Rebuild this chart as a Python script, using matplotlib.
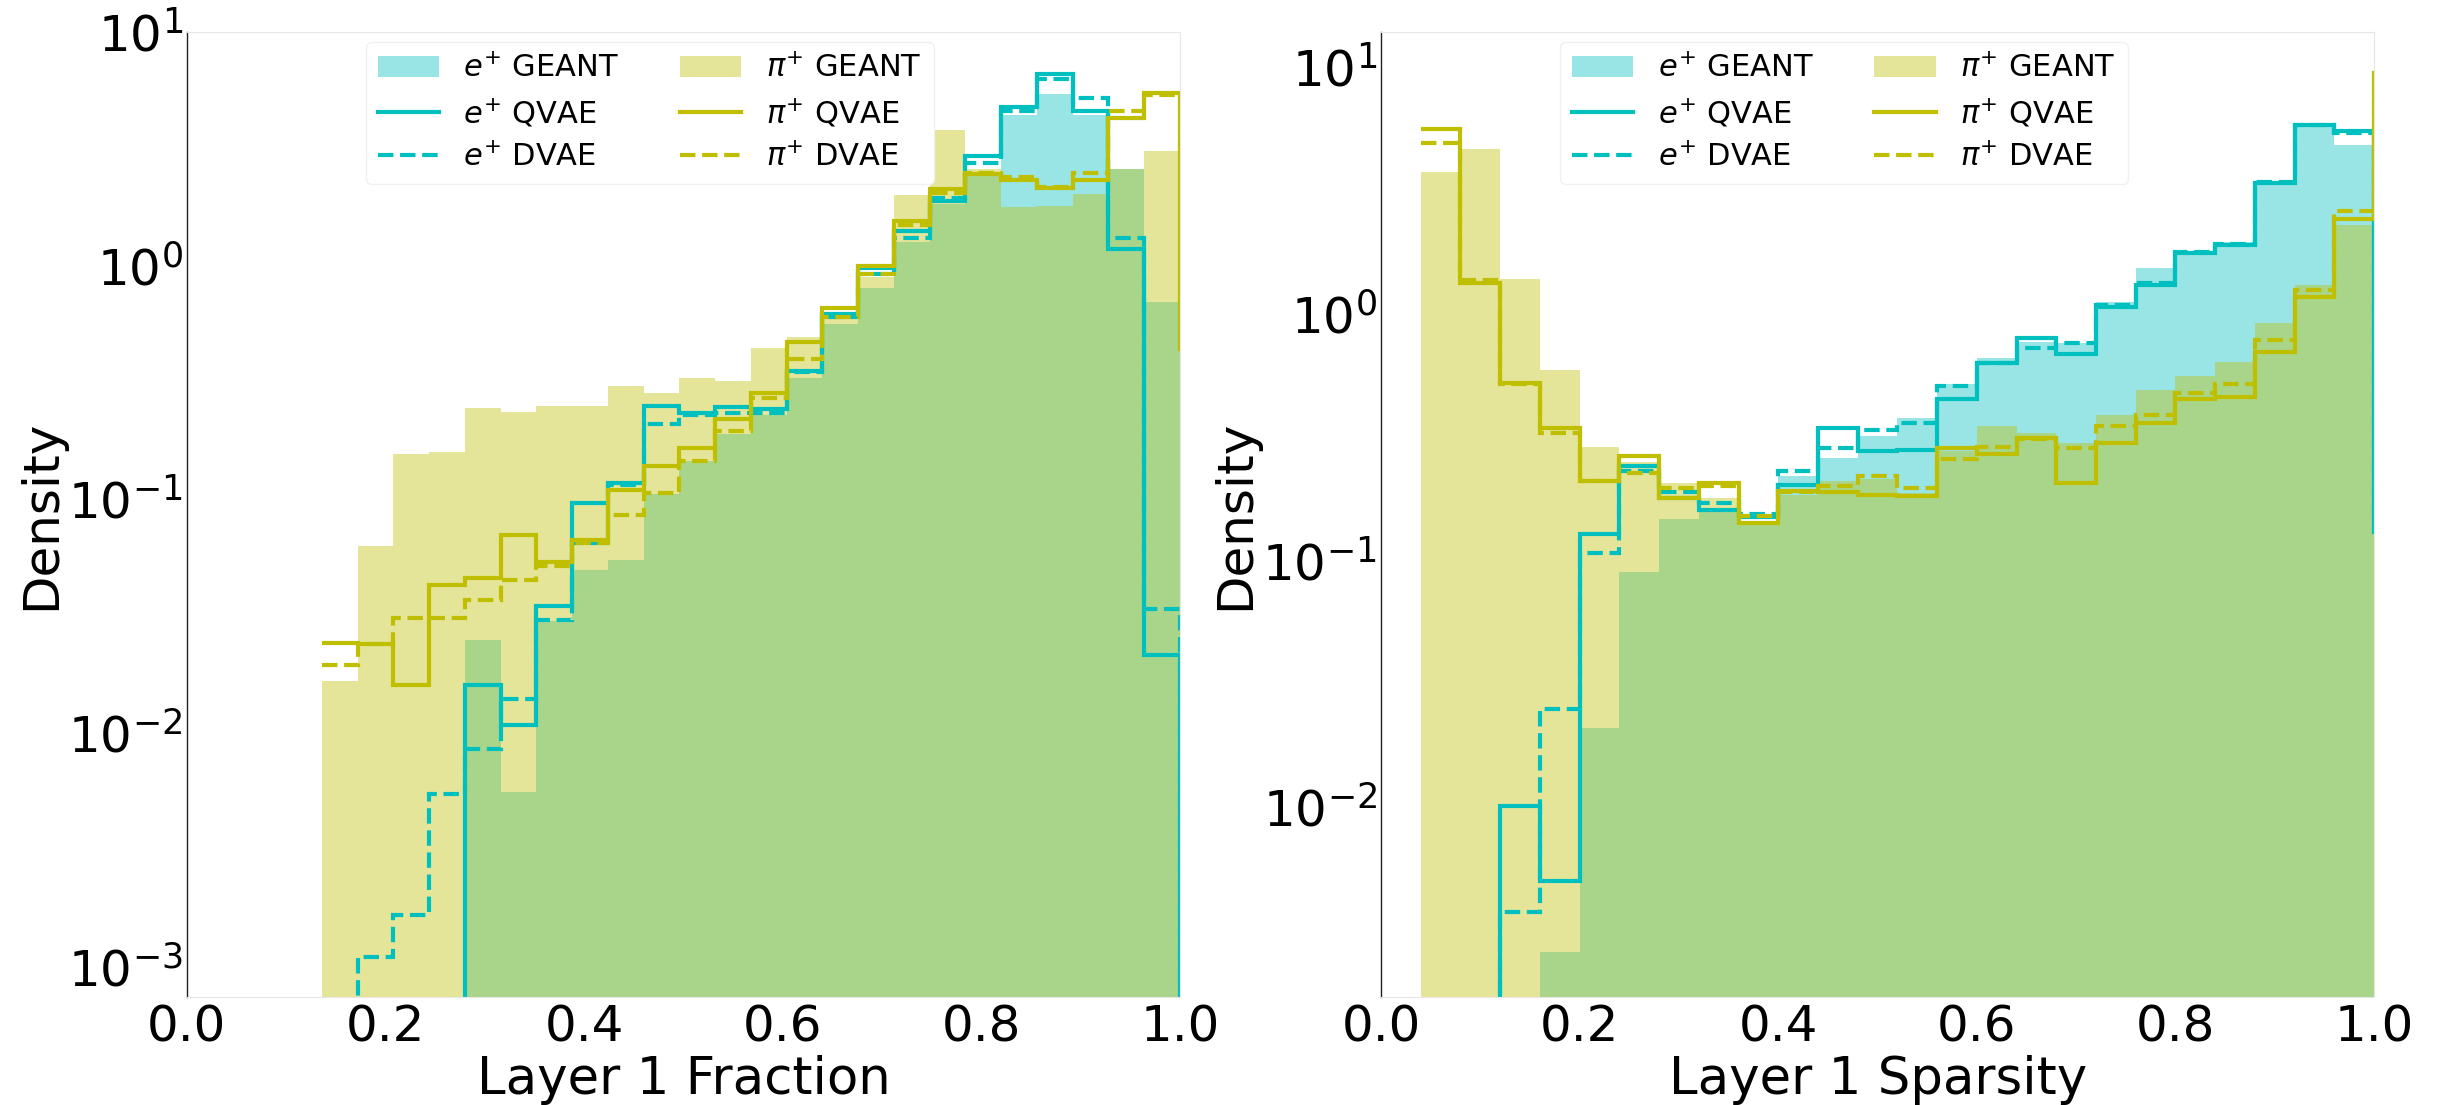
import numpy as np
import matplotlib
matplotlib.use("Agg")
import matplotlib.pyplot as plt

# --- bin edges (last bin sits just past 1.0 and is clipped by xlim) ---
edges_frac = np.round(0.136 + 0.036 * np.arange(26), 3)
edges_spar = np.round(0.04 + 0.04 * np.arange(26), 3)

# --- Layer 1 Fraction ---
e_geant_frac = [0, 0, 0, 0, 0.025, 0.0056, 0.030, 0.050, 0.055, 0.105, 0.146, 0.19,
                0.23, 0.33, 0.56, 0.80, 1.26, 1.84, 2.45, 4.4, 5.45, 4.4, 2.6, 0.70, 0]
pi_geant_frac = [0.0166, 0.063, 0.156, 0.159, 0.246, 0.236, 0.25, 0.25, 0.305, 0.285, 0.33, 0.32,
                 0.444, 0.495, 0.60, 0.89, 2.0, 3.8, 2.6, 1.78, 1.8, 2.03, 2.6, 3.1, 0]
e_qvae_frac = [0, 0, 0, 0, 0.016, 0.0108, 0.035, 0.096, 0.117, 0.25, 0.234, 0.248,
               0.243, 0.355, 0.62, 0.98, 1.41, 1.9, 2.94, 4.8, 6.6, 4.57, 1.18, 0.0216, 0]
e_dvae_frac = [0, 0.0011, 0.00166, 0.0055, 0.0085, 0.014, 0.0305, 0.065, 0.115, 0.21, 0.23, 0.235,
               0.235, 0.35, 0.60, 0.92, 1.31, 1.95, 2.74, 4.6, 6.3, 5.2, 1.31, 0.034, 0]
pi_qvae_frac = [0.0243, 0.024, 0.016, 0.043, 0.046, 0.070, 0.054, 0.067, 0.11, 0.139, 0.166, 0.22,
                0.285, 0.47, 0.66, 1.0, 1.56, 2.12, 2.48, 2.32, 2.14, 2.32, 4.3, 5.5, 0.44]
pi_dvae_frac = [0.0195, 0.024, 0.031, 0.031, 0.037, 0.045, 0.052, 0.065, 0.086, 0.106, 0.146, 0.196,
                0.27, 0.40, 0.60, 0.92, 1.49, 2.04, 2.5, 2.4, 2.17, 2.5, 4.6, 5.4, 0.44]

# --- Layer 1 Sparsity ---
e_geant_spar = [0, 0, 0, 0.0026, 0.021, 0.0895, 0.147, 0.16, 0.14, 0.22, 0.26, 0.32,
                0.38, 0.52, 0.66, 0.77, 0.76, 1.12, 1.53, 1.79, 1.96, 3.43, 5.74, 4.83, 0]
pi_geant_spar = [3.77, 4.65, 1.38, 0.594, 0.289, 0.25, 0.206, 0.18, 0.14, 0.185, 0.21, 0.215,
                 0.188, 0.277, 0.35, 0.33, 0.30, 0.39, 0.49, 0.56, 0.64, 0.92, 1.31, 2.3, 0]
e_qvae_spar = [0, 0, 0.0101, 0.00503, 0.128, 0.241, 0.18, 0.161, 0.15, 0.203, 0.345, 0.277,
               0.28, 0.45, 0.63, 0.80, 0.69, 1.07, 1.31, 1.76, 1.9, 3.4, 5.86, 5.5, 0.134]
e_dvae_spar = [0, 0, 0.00375, 0.025, 0.107, 0.23, 0.19, 0.171, 0.155, 0.23, 0.286, 0.34,
               0.36, 0.51, 0.63, 0.73, 0.76, 1.09, 1.33, 1.79, 1.93, 3.43, 5.86, 5.4, 0.13]
pi_qvae_spar = [5.6, 1.33, 0.525, 0.345, 0.21, 0.266, 0.18, 0.207, 0.142, 0.191, 0.19, 0.185,
                0.182, 0.286, 0.27, 0.314, 0.207, 0.30, 0.363, 0.45, 0.46, 0.70, 1.17, 2.42, 9.5]
pi_dvae_spar = [4.94, 1.37, 0.52, 0.33, 0.21, 0.226, 0.197, 0.2, 0.151, 0.19, 0.2, 0.22,
                0.197, 0.257, 0.29, 0.31, 0.285, 0.35, 0.39, 0.48, 0.52, 0.785, 1.25, 2.62, 9.0]

xticks = [0.0, 0.2, 0.4, 0.6, 0.8, 1.0]


def draw_panel(ax, edges, e_geant, pi_geant, e_qvae, e_dvae, pi_qvae, pi_dvae, xlabel, ylim):
    ax.set_yscale("log")
    h1 = ax.stairs(e_geant, edges, fill=True, color="c", alpha=0.4, linewidth=0, zorder=1,
                   label=r"$e^{+}$ GEANT")
    h4 = ax.stairs(pi_geant, edges, fill=True, color="y", alpha=0.4, linewidth=0, zorder=1,
                   label=r"$\pi^{+}$ GEANT")
    # step outlines: no drop to the baseline at the outer edges
    h2 = ax.stairs(e_qvae, edges, baseline=None, color="c", linewidth=3, zorder=2,
                   label=r"$e^{+}$ QVAE")
    h3 = ax.stairs(e_dvae, edges, baseline=None, color="c", linewidth=3, linestyle="--",
                   zorder=2, label=r"$e^{+}$ DVAE")
    h5 = ax.stairs(pi_qvae, edges, baseline=None, color="y", linewidth=3, zorder=2,
                   label=r"$\pi^{+}$ QVAE")
    h6 = ax.stairs(pi_dvae, edges, baseline=None, color="y", linewidth=3, linestyle="--",
                   zorder=2, label=r"$\pi^{+}$ DVAE")

    ax.set_xlim(0, 1)
    ax.set_ylim(*ylim)
    ax.set_xticks(xticks)
    ax.tick_params(axis="both", which="both", length=0, labelsize=36)
    ax.tick_params(axis="x", pad=5)
    ax.tick_params(axis="y", pad=3)
    ax.set_xlabel(xlabel, fontsize=37, labelpad=2)
    ax.set_ylabel("Density", fontsize=36, labelpad=2)

    for side in ("top", "right", "bottom"):
        ax.spines[side].set_color("#e6e6e6")
    ax.spines["left"].set_color("#222222")
    ax.spines["left"].set_linewidth(1.0)

    leg = ax.legend(handles=[h1, h2, h3, h4, h5, h6], ncol=2, fontsize=22,
                    loc="upper left", bbox_to_anchor=(0.18, 0.99), borderaxespad=0,
                    labelspacing=0.45, columnspacing=2.0, handlelength=2.0,
                    framealpha=1.0, edgecolor="#f0f0f0")
    leg.set_zorder(5)


fig = plt.figure(figsize=(24.43, 11.05), dpi=100)
ax1 = fig.add_axes([0.0765, 0.0977, 0.4065, 0.8733])
ax2 = fig.add_axes([0.5653, 0.0977, 0.4065, 0.8733])

draw_panel(ax1, edges_frac, e_geant_frac, pi_geant_frac, e_qvae_frac, e_dvae_frac,
           pi_qvae_frac, pi_dvae_frac, "Layer 1 Fraction", (7.4e-4, 10))
draw_panel(ax2, edges_spar, e_geant_spar, pi_geant_spar, e_qvae_spar, e_dvae_spar,
           pi_qvae_spar, pi_dvae_spar, "Layer 1 Sparsity", (1.7e-3, 13.9))

fig.savefig("out.png", dpi=100, facecolor="white")
